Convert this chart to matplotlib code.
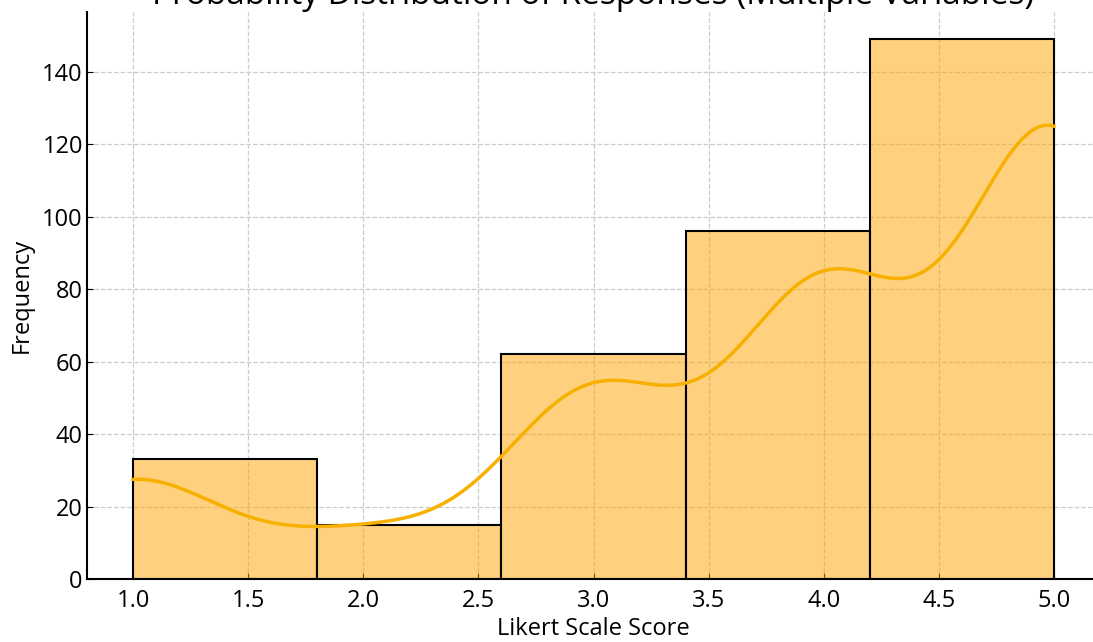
import numpy as np
import matplotlib
matplotlib.use("Agg")
import matplotlib.pyplot as plt
import seaborn as sns

plt.rcParams['font.family'] = ['Open Sans', 'DejaVu Sans']

# Likert scores and how many responses each one got
scores = [1, 2, 3, 4, 5]
counts = [33, 15, 62, 96, 149]
responses = np.repeat(scores, counts)

fig = plt.figure(figsize=(10.93, 6.42), dpi=100)
ax = fig.add_axes([87 / 1093, 63 / 642, 1013 / 1093, 567 / 642])

sns.histplot(responses, bins=5, kde=True, color='orange',
             edgecolor='black', linewidth=1.5, alpha=0.5, ax=ax,
             line_kws={'linewidth': 2.5})
# kde line in solid amber
for line in ax.lines:
    line.set_color('#f7b000')

ax.set_title('Probability Distribution of Responses (Multiple Variables)',
             fontsize=24, pad=3.5)
ax.set_xlabel('Likert Scale Score', fontsize=17, labelpad=3)
ax.set_ylabel('Frequency', fontsize=17, labelpad=6)
ax.tick_params(labelsize=17, direction='in', length=4)
ax.tick_params(axis='x', pad=7)
ax.tick_params(axis='y', pad=3)
ax.grid(True, linestyle='--', color='#cccccc', linewidth=0.9)
ax.set_axisbelow(True)
for s in ['top', 'right']:
    ax.spines[s].set_visible(False)
ax.spines['left'].set_linewidth(1.5)
ax.spines['bottom'].set_linewidth(1.5)

fig.savefig('out.png', dpi=100)
